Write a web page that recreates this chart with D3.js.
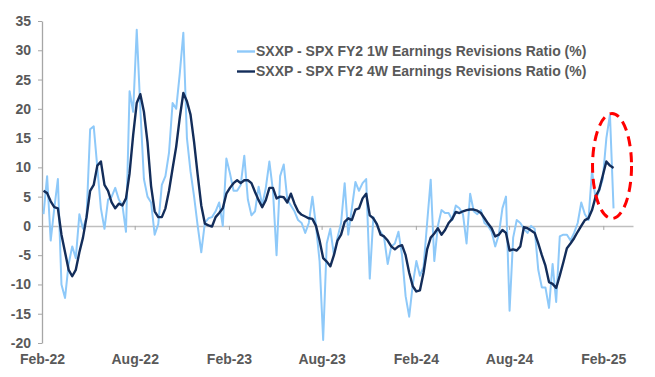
<!DOCTYPE html>
<html>
<head>
<meta charset="utf-8">
<script src="https://cdn.jsdelivr.net/npm/d3@7"></script>
<style>
  html, body { margin: 0; padding: 0; background: #fff; }
  svg { display: block; font-family: "Liberation Sans", Arial, sans-serif; }
</style>
</head>
<body>
<script>
// weekly readings, first week ending 4 Feb 2022
const startDate = new Date(2022, 1, 4);

const seriesNames = [
    'SXXP - SPX FY2 1W Earnings Revisions Ratio (%)',
    'SXXP - SPX FY2 4W Earnings Revisions Ratio (%)'
];

const ratio1W = [
    2.0, 8.5, -2.5, 3.0, 8.0, -10.0, -12.3, -6.5, -3.5, -5.5,
    2.0, -0.5, 1.5, 16.5, 17.0, 10.0, 3.0, -0.5, 4.5, 5.0,
    6.5, 4.5, 3.5, -1.0, 23.0, 19.5, 33.5, 20.0, 8.0, 5.0,
    4.0, -1.5, 0.3, 7.0, 8.5, 12.5, 21.0, 20.0, 26.0, 33.0,
    15.0, 9.3, 5.0, 0.0, -4.5, 0.5, 1.3, 1.5, 2.5, 4.0,
    0.0, 11.5, 9.0, 6.0, 6.0, 7.0, 12.0, 4.5, 1.8, 2.5,
    6.7, 3.5, 6.5, 11.0, 6.0, -5.0, 8.5, 10.5, 4.5, 3.5,
    2.5, 1.0, 0.5, -1.2, 0.5, 5.0, 0.0, -6.0, -19.5, -3.0,
    -0.5, -5.0, -2.0, 0.5, 7.3, -1.5, 3.0, 7.5, 6.0, 7.3,
    8.0, -9.0, 1.5, 0.0, -1.0, -2.0, -6.5, -3.5, -3.0, -1.0,
    -5.0, -12.0, -15.5, -10.0, -6.0, -8.5, -7.0, 0.5, 7.9, -6.0,
    0.0, 2.7, 2.2, 2.2, 1.0, 3.5, 3.0, 2.0, -3.0, 5.5,
    2.5, 2.0, 2.7, 0.5, 0.0, -1.0, -3.5, -1.5, 3.0, 5.0,
    -14.5, -2.0, 1.0, 0.5, -0.5, -1.2, 0.0, -0.5, -7.5, -10.5,
    -10.5, -14.0, -6.5, -13.0, -1.8, -1.5, -1.5, -2.5, -1.2, 0.5,
    4.0, 2.0, 1.0, 9.5, 4.5, 6.0, 8.0, 15.0, 19.0, 3.0
];

const ratio4W = [
    6.0, 5.6, 4.2, 3.2, 3.0, -1.5, -4.5, -7.5, -8.6, -7.5,
    -4.5, -2.0, 1.5, 6.0, 7.0, 10.3, 11.0, 7.0, 6.0, 4.0,
    3.0, 3.8, 3.5, 4.7, 9.0, 15.5, 21.0, 22.5, 19.5, 14.3,
    6.8, 2.5, 1.5, 1.5, 3.0, 6.0, 9.8, 13.5, 18.5, 22.7,
    21.3, 19.0, 14.3, 8.7, 3.5, 0.4, 0.1, -0.1, 1.5, 2.2,
    3.0, 5.5, 6.5, 7.3, 7.8, 7.3, 7.8, 7.8, 7.3, 5.8,
    4.4, 3.2, 4.4, 6.5, 6.5, 4.7, 5.0, 4.9, 4.0, 5.5,
    3.8, 2.5, 1.9, 1.6, 1.3, 1.2, 0.0, -2.5, -5.5, -6.1,
    -6.9, -5.0, -2.5, -1.5, 0.7, 1.3, 1.0, 2.8, 3.0, 4.7,
    5.5, 1.8, 1.3, 0.3, -1.5, -1.8, -2.5, -3.5, -4.0, -3.5,
    -3.3, -5.0, -8.0, -10.3, -11.2, -11.0, -8.0, -4.0, -2.0, -1.3,
    -0.4, -1.5, -0.7, 0.5, 1.2, 2.4, 2.2, 2.5, 2.7, 2.8,
    2.8, 2.6, 2.2, 1.3, 0.4, -0.4, -1.8, -1.5, -0.7, -1.2,
    -4.2, -4.0, -4.2, -3.5, -0.2, -0.4, -0.8, -1.2, -3.0, -5.0,
    -6.8, -9.6, -9.9, -10.6, -8.5, -6.2, -3.8, -3.0, -2.1, -1.0,
    0.0, 1.0, 1.3, 2.7, 5.0, 6.2, 8.6, 11.0, 10.3, 9.9
];

const yTicks = [-20, -15, -10, -5, 0, 5, 10, 15, 20, 25, 30, 35];
const xTicks = [
    new Date(2022, 1, 1), new Date(2022, 7, 1),
    new Date(2023, 1, 1), new Date(2023, 7, 1),
    new Date(2024, 1, 1), new Date(2024, 7, 1),
    new Date(2025, 1, 1)
];

const svgWidth = 655;
const svgHeight = 377;

const labelColor = '#595959';
const lightBlue = '#8ec9f9';
const darkBlue = '#132d5a';

function main() {
    const dates = ratio1W.map((_, i) => d3.timeDay.offset(startDate, 7 * i));

    const svg = d3.select('body')
        .append('svg')
        .attr('width', svgWidth)
        .attr('height', svgHeight);

    const scaleX = d3.scaleTime()
        .domain([new Date(2022, 1, 1), new Date(2025, 2, 31)])
        .range([42, 633]);

    const scaleY = d3.scaleLinear()
        .domain([-20, 35])
        .range([343, 21]);

    // y axis
    svg.append('g')
        .attr('transform', 'translate(42,0)')
        .call(d3.axisLeft(scaleY)
            .tickValues(yTicks)
            .tickFormat(d => String(d))
            .tickSize(4)
            .tickSizeOuter(0)
            .tickPadding(7))
        .call(g => g.select('.domain').attr('stroke', '#a6a6a6').attr('stroke-width', 1.3))
        .call(g => g.selectAll('line').attr('stroke', '#a6a6a6'))
        .call(g => g.selectAll('text')
            .attr('fill', labelColor)
            .attr('font-size', 14)
            .attr('font-weight', 'bold')
            .attr('font-family', '"Liberation Sans", Arial, sans-serif'));

    // x axis sits on the zero line, labels go to the bottom
    svg.append('g')
        .attr('transform', `translate(0,${scaleY(0)})`)
        .call(d3.axisBottom(scaleX)
            .tickValues(xTicks)
            .tickFormat(d3.timeFormat('%b-%y'))
            .tickSize(4)
            .tickSizeOuter(0))
        .call(g => g.select('.domain').attr('stroke', '#bfbfbf').attr('stroke-width', 1.5))
        .call(g => g.selectAll('line').attr('stroke', '#a6a6a6'))
        .call(g => g.selectAll('text')
            .attr('y', scaleY(-20) - scaleY(0) + 11)
            .attr('fill', labelColor)
            .attr('font-size', 14)
            .attr('font-weight', 'bold')
            .attr('font-family', '"Liberation Sans", Arial, sans-serif'));

    const line = (values) => d3.line()
        .x((d, i) => scaleX(dates[i]))
        .y(d => scaleY(d))(values);

    svg.append('path')
        .attr('d', line(ratio1W))
        .attr('fill', 'none')
        .attr('stroke', lightBlue)
        .attr('stroke-width', 2)
        .attr('stroke-linejoin', 'round');

    svg.append('path')
        .attr('d', line(ratio4W))
        .attr('fill', 'none')
        .attr('stroke', darkBlue)
        .attr('stroke-width', 2.4)
        .attr('stroke-linejoin', 'round');

    // legend
    const legend = svg.append('g');
    const legendColors = [lightBlue, darkBlue];
    seriesNames.forEach((name, i) => {
        const yPos = 51.5 + i * 20;
        legend.append('line')
            .attr('x1', 237).attr('x2', 255)
            .attr('y1', yPos).attr('y2', yPos)
            .attr('stroke', legendColors[i])
            .attr('stroke-width', 2.4);
        legend.append('text')
            .attr('x', 256)
            .attr('y', yPos)
            .attr('dy', '0.35em')
            .attr('fill', labelColor)
            .attr('font-size', 14)
            .attr('font-weight', 'bold')
            .text(name);
    });

    // highlight of the latest readings
    const last = dates.length - 1;
    svg.append('ellipse')
        .attr('cx', scaleX(dates[last]) - 1.5)
        .attr('cy', 166)
        .attr('rx', 19.5)
        .attr('ry', 52.5)
        .attr('fill', 'none')
        .attr('stroke', '#ff0000')
        .attr('stroke-width', 3)
        .attr('stroke-dasharray', '10,6');
}

window.onload = main;
</script>
</body>
</html>
